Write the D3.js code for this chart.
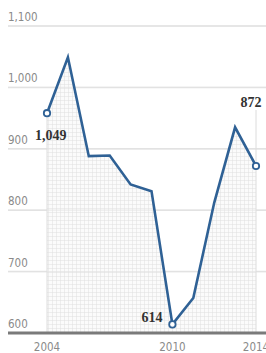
<!DOCTYPE html>
<html lang="en">
<head>
    <meta charset="UTF-8">
    <title>Line chart 2004-2014</title>
    <style>
        body { margin: 0; background: #fff; }
        svg { display: block; }
        .tick-label { font-family: "Liberation Sans Narrow", "DejaVu Sans Condensed", Roboto, sans-serif; fill: #8a8a8a; font-size: 11.5px; }
        .note { font-family: "Liberation Serif", "DejaVu Serif", serif; font-weight: bold; fill: #333; font-size: 14px; }
    </style>
    <script src="https://cdn.jsdelivr.net/npm/d3@7"></script>
</head>
<body>
<svg id="svg_main"></svg>
<script>
    // data
    let years = [2004, 2005, 2006, 2007, 2008, 2009, 2010, 2011, 2012, 2013, 2014];
    let values = [958, 1049, 888, 889, 842, 831, 614, 657, 812, 935, 872];
    let yTicks = [600, 700, 800, 900, 1000, 1100];
    let xTicks = [2004, 2010, 2014];
    let marked = [2004, 2010, 2014];       // years with open circles
    let noteYears = [2004, 2010, 2014];
    let noteTexts = ["1,049", "614", "872"];

    const width = 266;
    const height = 353;

    let data = years.map((y, i) => ({year: y, value: values[i]}));

    let svg = d3.select('#svg_main').attr('width', width).attr('height', height);

    let x = d3.scaleLinear().domain([2004, 2014]).range([47, 256]);
    let y = d3.scaleLinear().domain([600, 1100]).range([333, 26]);

    // grid pattern for the area
    let defs = svg.append("defs");
    let pat = defs.append("pattern")
        .attr("id", "grid")
        .attr("width", 4).attr("height", 4)
        .attr("patternUnits", "userSpaceOnUse");
    pat.append("rect").attr("width", 4).attr("height", 4).attr("fill", "#fbfbfb");
    pat.append("path").attr("d", "M0,0H4M0,0V4")
        .attr("stroke", "#e0e0e0").attr("stroke-width", 1).attr("fill", "none");

    // horizontal gridlines
    svg.selectAll("line.grid")
        .data(yTicks.slice(1))
        .enter().append("line")
        .attr("class", "grid")
        .attr("x1", 8).attr("x2", width)
        .attr("y1", d => y(d)).attr("y2", d => y(d))
        .attr("stroke", "#e2e2e2").attr("stroke-width", 1.5);

    // area under the line
    svg.append("path")
        .datum(data)
        .attr("d", d3.area().x(d => x(d.year)).y0(y(600)).y1(d => y(d.value)))
        .attr("fill", "url(#grid)");

    // edges of shaded block
    svg.selectAll("line.edge")
        .data([2004, 2014])
        .enter().append("line")
        .attr("class", "edge")
        .attr("x1", d => x(d)).attr("x2", d => x(d))
        .attr("y1", d => d === 2014 ? 110 : y(values[0]))
        .attr("y2", y(600))
        .attr("stroke", "#dcdcdc").attr("stroke-width", 1);

    // gridlines drawn again faintly over the pattern
    svg.selectAll("line.grid2")
        .data(yTicks.slice(1))
        .enter().append("line")
        .attr("x1", 8).attr("x2", width)
        .attr("y1", d => y(d)).attr("y2", d => y(d))
        .attr("stroke", "#e2e2e2").attr("stroke-width", 1.2)
        .attr("opacity", 0.6);

    // baseline
    svg.append("line")
        .attr("x1", 8).attr("x2", width)
        .attr("y1", y(600)).attr("y2", y(600))
        .attr("stroke", "#7a7a7a").attr("stroke-width", 3);

    // y labels
    svg.selectAll("text.ylab")
        .data(yTicks)
        .enter().append("text")
        .attr("class", "tick-label")
        .attr("x", 8)
        .attr("y", d => y(d) - 5)
        .text(d => d3.format(",")(d));

    // x labels
    svg.selectAll("text.xlab")
        .data(xTicks)
        .enter().append("text")
        .attr("class", "tick-label")
        .attr("text-anchor", "middle")
        .attr("font-size", "12px")
        .attr("x", d => x(d))
        .attr("y", 351)
        .text(d => d);

    // line
    svg.append("path")
        .datum(data)
        .attr("d", d3.line().x(d => x(d.year)).y(d => y(d.value)))
        .attr("fill", "none")
        .attr("stroke", "#2f6195")
        .attr("stroke-width", 2.6)
        .attr("stroke-linejoin", "miter");

    // circles
    svg.selectAll("circle")
        .data(data.filter(d => marked.includes(d.year)))
        .enter().append("circle")
        .attr("cx", d => x(d.year))
        .attr("cy", d => y(d.value))
        .attr("r", 3.2)
        .attr("fill", "#fff")
        .attr("stroke", "#2f6195")
        .attr("stroke-width", 1.8);

    // value notes
    let noteDx = [-12, -10, -5];
    let noteDy = [27, -2, -59];
    let noteAnchor = ["start", "end", "middle"];
    noteYears.forEach((yr, i) => {
        let v = values[years.indexOf(yr)];
        svg.append("text")
            .attr("class", "note")
            .attr("text-anchor", noteAnchor[i])
            .attr("x", x(yr) + noteDx[i])
            .attr("y", y(v) + noteDy[i])
            .text(noteTexts[i]);
    });
</script>
</body>
</html>
